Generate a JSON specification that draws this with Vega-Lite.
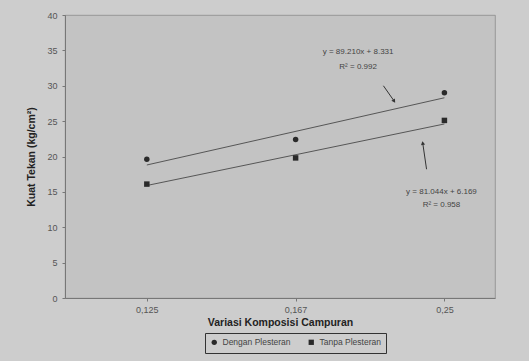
{
  "$schema": "https://vega.github.io/schema/vega-lite/v6.json",
  "width": 430,
  "height": 283,
  "autosize": {"type": "none"},
  "padding": {"left": 65, "top": 15, "right": 34, "bottom": 63},
  "background": "#cdcdcd",
  "config": {
    "font": "Liberation Sans",
    "view": {"fill": "#c3c3c3", "stroke": "#8a8a8a", "strokeWidth": 0.8},
    "axis": {"labelFont": "Liberation Sans", "titleFont": "Liberation Sans", "labelColor": "#555", "titleColor": "#222", "domainColor": "#777", "tickColor": "#777", "grid": false, "labelOverlap": false}
  },
  "datasets": {
    "points": [
      {"x": 1, "series": "Dengan Plesteran", "y": 19.6},
      {"x": 2, "series": "Dengan Plesteran", "y": 22.4},
      {"x": 3, "series": "Dengan Plesteran", "y": 29.0},
      {"x": 1, "series": "Tanpa Plesteran", "y": 16.1},
      {"x": 2, "series": "Tanpa Plesteran", "y": 19.8},
      {"x": 3, "series": "Tanpa Plesteran", "y": 25.1}
    ],
    "trend": [
      {"x": 1, "series": "Dengan Plesteran", "y": 18.8},
      {"x": 3, "series": "Dengan Plesteran", "y": 28.3},
      {"x": 1, "series": "Tanpa Plesteran", "y": 15.9},
      {"x": 3, "series": "Tanpa Plesteran", "y": 24.6}
    ],
    "arrows": [
      {"id": "a", "x": 2.66, "y": 27.9, "x2": 2.59, "y2": 30.0},
      {"id": "b", "x": 2.855, "y": 21.8, "x2": 2.88, "y2": 18.2}
    ],
    "notes": [
      {"x": 2.42, "y": 34.7, "text": "y = 89.210x + 8.331"},
      {"x": 2.42, "y": 32.7, "text": "R² = 0.992"},
      {"x": 2.98, "y": 15.0, "text": "y = 81.044x + 6.169"},
      {"x": 2.98, "y": 13.2, "text": "R² = 0.958"}
    ]
  },
  "encoding": {
    "x": {"field": "x", "type": "quantitative", "scale": {"domain": [0.45, 3.34], "nice": false, "zero": false},
      "axis": {"values": [1, 2, 3], "labelExpr": "datum.value == 1 ? '0,125' : datum.value == 2 ? '0,167' : '0,25'", "labelFontSize": 9, "labelPadding": 4, "tickSize": 3,
        "title": "Variasi Komposisi Campuran", "titleFontSize": 10.5, "titleFontWeight": "bold", "titlePadding": 3}},
    "y": {"field": "y", "type": "quantitative", "scale": {"domain": [0, 40], "nice": false},
      "axis": {"values": [0, 5, 10, 15, 20, 25, 30, 35, 40], "labelFontSize": 9, "tickSize": 3, "labelPadding": 5,
        "title": "Kuat Tekan (kg/cm²)", "titleFontSize": 10.5, "titleFontWeight": "bold", "titlePadding": 10}}
  },
  "layer": [
    {
      "data": {"name": "trend"},
      "mark": {"type": "line", "color": "#4a4a4a", "strokeWidth": 0.9},
      "encoding": {"detail": {"field": "series"}}
    },
    {
      "data": {"name": "points"},
      "mark": {"type": "point", "filled": true, "opacity": 1, "size": 30, "color": "#2a2a2a"},
      "encoding": {
        "shape": {"field": "series", "type": "nominal", "scale": {"domain": ["Dengan Plesteran", "Tanpa Plesteran"], "range": ["circle", "square"]},
          "legend": {"title": null, "orient": "none", "legendX": 140, "legendY": 318, "direction": "horizontal", "labelFontSize": 8.5, "labelColor": "#444", "symbolSize": 28, "symbolFillColor": "#2a2a2a", "symbolStrokeColor": "#2a2a2a", "strokeColor": "#333", "padding": 5, "columnPadding": 14, "fillColor": "#cdcdcd"}}
      }
    },
    {
      "data": {"name": "arrows"},
      "mark": {"type": "rule", "color": "#333", "strokeWidth": 1},
      "encoding": {"x2": {"field": "x2"}, "y2": {"field": "y2"}}
    },
    {
      "data": {"name": "arrows"},
      "transform": [{"filter": "datum.id == 'a'"}],
      "mark": {"type": "point", "shape": "triangle", "filled": true, "color": "#333", "opacity": 1, "size": 18, "angle": 147}
    },
    {
      "data": {"name": "arrows"},
      "transform": [{"filter": "datum.id == 'b'"}],
      "mark": {"type": "point", "shape": "triangle", "filled": true, "color": "#333", "opacity": 1, "size": 18, "angle": 350}
    },
    {
      "data": {"name": "notes"},
      "mark": {"type": "text", "fontSize": 8, "color": "#444", "font": "Liberation Sans"},
      "encoding": {"text": {"field": "text"}}
    }
  ]
}
